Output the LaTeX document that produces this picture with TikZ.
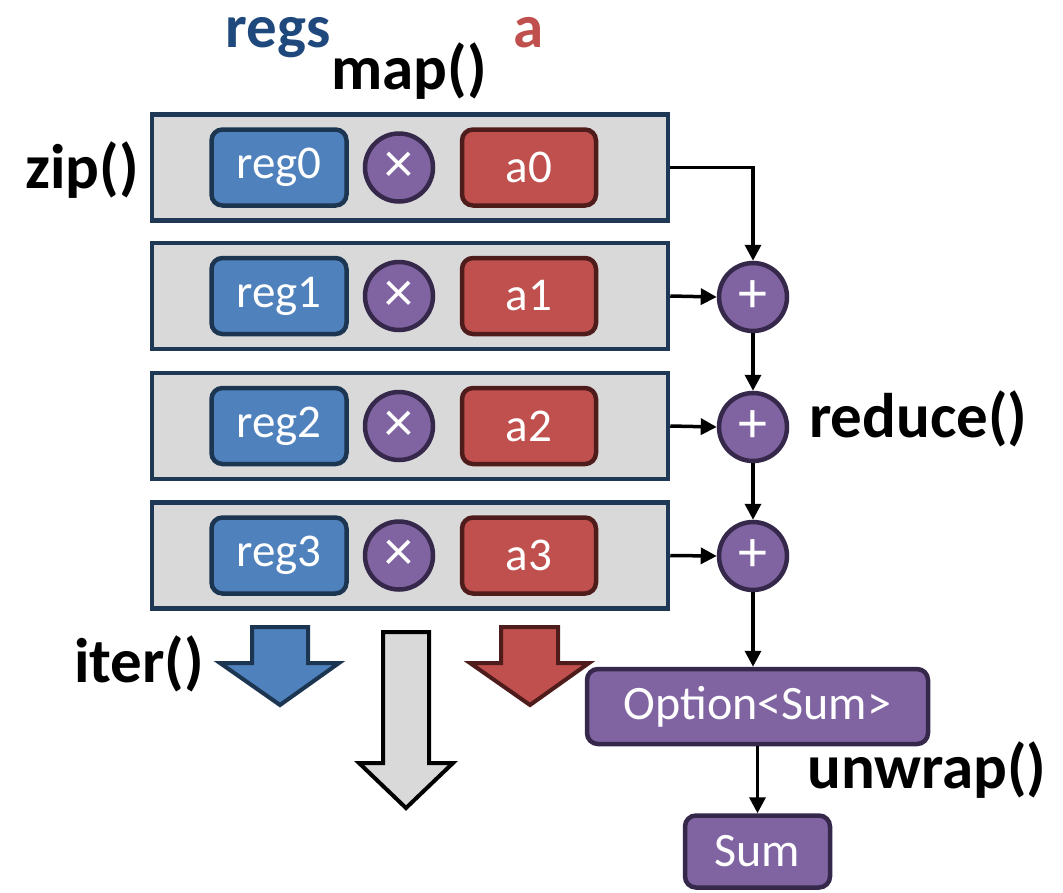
\documentclass[tikz,border=0pt]{standalone}
\usepackage{fontspec}
\setmainfont{Carlito}
\usetikzlibrary{arrows.meta}
\definecolor{rowgray}{HTML}{D9D9D9}
\definecolor{rowline}{HTML}{1F3855}
\definecolor{regblue}{HTML}{4F81BD}
\definecolor{regline}{HTML}{1C3551}
\definecolor{ared}{HTML}{C0504D}
\definecolor{aline}{HTML}{4F1C1C}
\definecolor{opurple}{HTML}{8064A2}
\definecolor{pline}{HTML}{35284A}
\definecolor{regstext}{HTML}{1F497D}
\tikzset{
  rowbox/.style={draw=rowline, fill=rowgray, line width=4.5pt, minimum width=516pt, minimum height=106pt, inner sep=0pt},
  regbox/.style={draw=regline, fill=regblue, line width=4.5pt, rounded corners=11pt, minimum width=135pt, minimum height=76pt, inner sep=0pt, text=white, font=\fontsize{47}{52}\selectfont},
  abox/.style={draw=aline, fill=ared, line width=4.5pt, rounded corners=11pt, minimum width=134pt, minimum height=76pt, inner sep=0pt, text=white, font=\fontsize{47}{52}\selectfont},
  opcirc/.style={circle, draw=pline, fill=opurple, line width=4.5pt, minimum size=68pt, inner sep=0pt, text=white, font=\fontsize{58}{62}\selectfont},
  pbox/.style={draw=pline, fill=opurple, line width=4.5pt, rounded corners=11pt, inner sep=0pt, text=white, font=\fontsize{48}{52}\selectfont},
  lbl/.style={font=\fontsize{63}{72}\selectfont\bfseries, inner sep=0pt, anchor=base},
  toplbl/.style={lbl, font=\fontsize{61}{70}\selectfont\bfseries, text height=0.5em, text depth=0.2em},
  conn/.style={line width=3.5pt, -{Triangle[length=16pt, width=16pt]}},
  blockarrow/.style={line width=4pt, line join=miter}
}
\begin{document}
\begin{tikzpicture}[x=1pt, y=-1pt]
\useasboundingbox (0,0) rectangle (1063,892);
% rows
\foreach \i/\y in {0/167.5, 1/296, 2/426, 3/555.5}{
  \node[rowbox] (row\i) at (410,\y) {};
  \node[regbox] (reg\i) at (279,\y) {reg\i};
  \node[opcirc] (mul\i) at (399,\y) {×};
  \node[abox] (a\i) at (529,\y) {a\i};
}
% plus circles
\node[opcirc] (p1) at (753,297) {+};
\node[opcirc] (p2) at (753,427) {+};
\node[opcirc] (p3) at (753,556) {+};
% option & sum
\node[pbox, minimum width=341pt, minimum height=75pt] (opt) at (757.5,706.5) {Option<Sum>};
\node[pbox, minimum width=145pt, minimum height=72pt] (sum) at (757.5,851.5) {Sum};
% connectors
\draw[conn] (row0.east) -| (p1.north);
\draw[conn] (row1.east) -- (p1.west);
\draw[conn] (row2.east) -- (p2.west);
\draw[conn] (row3.east) -- (p3.west);
\draw[conn] (p1.south) -- (p2.north);
\draw[conn] (p2.south) -- (p3.north);
\draw[conn] (p3.south) -- (p3.south |- opt.north);
\draw[conn] (opt.south) -- (sum.north);
% labels
\node[toplbl, text=regstext] (lregs) at (278,47) {regs};
\node[toplbl, text=ared] (la) at (529,47) {a};
\node[lbl] (lmap) at (409,89) {map()};
\node[lbl] (lzip) at (82,188) {zip()};
\node[lbl, anchor=base west] (lreduce) at (809,437) {reduce()};
\node[lbl, anchor=base west] (lunwrap) at (807,788) {unwrap()};
\node[lbl] (liter) at (139,682) {iter()};
% block arrows
\draw[blockarrow, draw=regline, fill=regblue]
  (252,627) -- (308,627) -- (308,663) -- (339,663) -- (280,705) -- (220,663) -- (252,663) -- cycle;
\draw[blockarrow, draw=black, fill=rowgray]
  (383,632) -- (429,632) -- (429,763) -- (453,763) -- (406,808) -- (359,763) -- (383,763) -- cycle;
\draw[blockarrow, draw=aline, fill=ared]
  (501,627) -- (558,627) -- (558,663) -- (589,663) -- (530,705) -- (470,663) -- (501,663) -- cycle;
\end{tikzpicture}
\end{document}
